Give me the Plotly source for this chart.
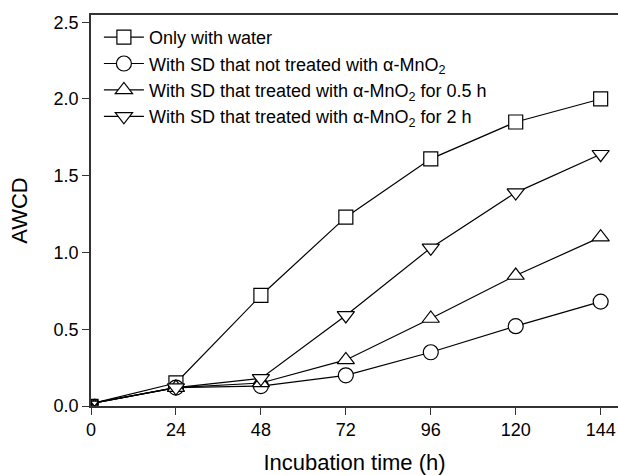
import plotly.graph_objects as go

hours = [1, 24, 48, 72, 96, 120, 144]
water = [0.02, 0.15, 0.72, 1.23, 1.61, 1.85, 2.00]
sd_untreated = [0.02, 0.12, 0.13, 0.20, 0.35, 0.52, 0.68]
sd_05h = [0.02, 0.12, 0.15, 0.30, 0.57, 0.85, 1.10]
sd_2h = [0.02, 0.12, 0.18, 0.59, 1.03, 1.39, 1.64]

names = [
    "Only with water",
    "With SD that not treated with \u03b1-MnO<sub>2</sub>",
    "With SD that treated with \u03b1-MnO<sub>2</sub> for 0.5 h",
    "With SD that treated with \u03b1-MnO<sub>2</sub> for 2 h",
]
series = [water, sd_untreated, sd_05h, sd_2h]
symbols = ["square", "circle", "triangle-up", "triangle-down"]
sizes = [14, 15, 15, 15]

fig = go.Figure()
# first segment with small (clipped) start markers
for ys, sym in zip(series, symbols):
    fig.add_trace(go.Scatter(
        x=hours[:2], y=ys[:2], mode="lines+markers", showlegend=False,
        line=dict(color="black", width=1.2),
        marker=dict(symbol=sym, size=7, color="white",
                    line=dict(color="black", width=1.2)),
        hoverinfo="skip",
    ))
for name, ys, sym, sz in zip(names, series, symbols, sizes):
    fig.add_trace(go.Scatter(
        x=hours[1:], y=ys[1:], name=name, mode="lines+markers",
        line=dict(color="black", width=1.2),
        marker=dict(symbol=sym, size=sz, color="white",
                    line=dict(color="black", width=1.2)),
    ))

font = "Liberation Sans, Arial, sans-serif"
fig.update_layout(
    width=618, height=475,
    margin=dict(l=91, r=0, t=15, b=69),
    paper_bgcolor="white", plot_bgcolor="white",
    font=dict(family=font, size=18, color="black"),
    showlegend=True,
    legend=dict(x=0.015, y=0.99, xanchor="left", yanchor="top",
                bgcolor="rgba(0,0,0,0)", font=dict(size=18),
                tracegroupgap=0, itemwidth=40),
    xaxis=dict(range=[0, 148.9], tickvals=[0, 24, 48, 72, 96, 120, 144],
               showgrid=False, zeroline=False, showline=True, linecolor="#333",
               linewidth=1.5, mirror=True, ticks="outside", ticklen=7,
               tickcolor="#333", title=dict(text="Incubation time (h)", standoff=18)),
    yaxis=dict(range=[0, 2.547], tickvals=[0, 0.5, 1.0, 1.5, 2.0, 2.5],
               ticktext=["0.0", "0.5", "1.0", "1.5", "2.0", "2.5"],
               showgrid=False, zeroline=False, showline=True, linecolor="#333",
               linewidth=1.5, ticks="outside", ticklen=7, tickcolor="#333",
               title=dict(text="AWCD", standoff=20)),
)
fig.write_html("out.html")
